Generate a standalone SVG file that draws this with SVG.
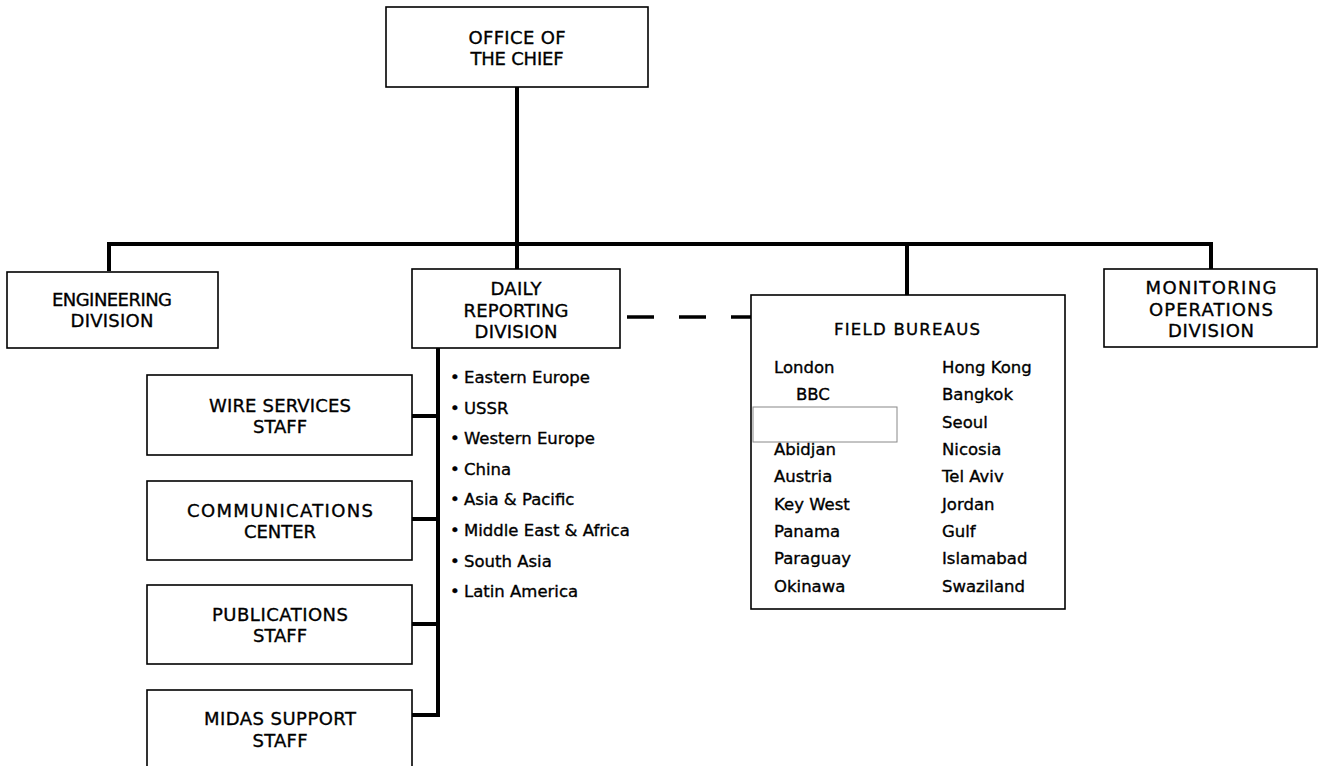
<svg xmlns="http://www.w3.org/2000/svg" width="1319" height="766" viewBox="0 0 1319 766">
<style>
.box{fill:#fff;stroke:#000;stroke-width:1.6}
.lbl{font-family:"DejaVu Sans",sans-serif;font-size:18px;fill:#000;stroke:#000;stroke-width:0.35;text-anchor:middle}
.lst{font-family:"DejaVu Sans",sans-serif;font-size:16.5px;fill:#000;stroke:#000;stroke-width:0.35}
.con{stroke:#000;stroke-width:4;fill:none}
.dash{stroke:#000;stroke-width:3.5;fill:none;stroke-dasharray:27 25}
</style>
<rect width="1319" height="766" fill="#fff"/>
<g id="connectors">
<path class="con" d="M517,87 V244 M109,271 V244 H1211 V269 M517,244 V269 M907,244 V295"/>
<path class="con" d="M438,348 V717 M412,416 H438 M412,519 H438 M412,624 H438 M412,715 H438"/>
<path class="dash" d="M627,317 H751"/>
</g>
<g id="office">
<rect class="box" x="386" y="7" width="262" height="80"/>
<text class="lbl" x="517" y="44" textLength="97">OFFICE OF</text>
<text class="lbl" x="517" y="65" textLength="93">THE CHIEF</text>
</g>
<g id="engineering">
<rect class="box" x="7" y="272" width="211" height="76"/>
<text class="lbl" x="112" y="306" textLength="120">ENGINEERING</text>
<text class="lbl" x="112" y="327" textLength="83">DIVISION</text>
</g>
<g id="daily">
<rect class="box" x="412" y="269" width="208" height="79"/>
<text class="lbl" x="516" y="295" textLength="51">DAILY</text>
<text class="lbl" x="516" y="317" textLength="105">REPORTING</text>
<text class="lbl" x="516" y="338" textLength="83">DIVISION</text>
</g>
<g id="monitoring">
<rect class="box" x="1104" y="269" width="213" height="78"/>
<text class="lbl" x="1211" y="294" textLength="131">MONITORING</text>
<text class="lbl" x="1211" y="316" textLength="124">OPERATIONS</text>
<text class="lbl" x="1211" y="337" textLength="86">DIVISION</text>
</g>
<g id="field">
<rect class="box" x="751" y="295" width="314" height="314"/>
<text class="lbl" x="907" y="335" style="font-size:16.5px" textLength="146">FIELD BUREAUS</text>
<rect x="753" y="407" width="144" height="35" fill="#fff" stroke="#888" stroke-width="1"/>
<g class="lst">
<text x="774" y="373">London</text>
<text x="796" y="400">BBC</text>
<text x="774" y="455">Abidjan</text>
<text x="774" y="482">Austria</text>
<text x="774" y="510">Key West</text>
<text x="774" y="537">Panama</text>
<text x="774" y="564">Paraguay</text>
<text x="774" y="592">Okinawa</text>
<text x="942" y="373">Hong Kong</text>
<text x="942" y="400">Bangkok</text>
<text x="942" y="428">Seoul</text>
<text x="942" y="455">Nicosia</text>
<text x="942" y="482">Tel Aviv</text>
<text x="942" y="510">Jordan</text>
<text x="942" y="537">Gulf</text>
<text x="942" y="564">Islamabad</text>
<text x="942" y="592">Swaziland</text>
</g>
</g>
<g id="regions" class="lst">
<text x="450" y="383">•<tspan x="464">Eastern Europe</tspan></text>
<text x="450" y="414">•<tspan x="464">USSR</tspan></text>
<text x="450" y="444">•<tspan x="464">Western Europe</tspan></text>
<text x="450" y="475">•<tspan x="464">China</tspan></text>
<text x="450" y="505">•<tspan x="464">Asia &amp; Pacific</tspan></text>
<text x="450" y="536">•<tspan x="464">Middle East &amp; Africa</tspan></text>
<text x="450" y="567">•<tspan x="464">South Asia</tspan></text>
<text x="450" y="597">•<tspan x="464">Latin America</tspan></text>
</g>
<g id="wire">
<rect class="box" x="147" y="375" width="265" height="80"/>
<text class="lbl" x="280" y="412" textLength="142">WIRE SERVICES</text>
<text class="lbl" x="280" y="433" textLength="54">STAFF</text>
</g>
<g id="comm">
<rect class="box" x="147" y="481" width="265" height="79"/>
<text class="lbl" x="280" y="517" textLength="186">COMMUNICATIONS</text>
<text class="lbl" x="280" y="538" textLength="72">CENTER</text>
</g>
<g id="pubs">
<rect class="box" x="147" y="585" width="265" height="79"/>
<text class="lbl" x="280" y="621" textLength="136">PUBLICATIONS</text>
<text class="lbl" x="280" y="642" textLength="54">STAFF</text>
</g>
<g id="midas">
<rect class="box" x="147" y="690" width="265" height="90"/>
<text class="lbl" x="280" y="725" textLength="152">MIDAS SUPPORT</text>
<text class="lbl" x="280" y="747" textLength="55">STAFF</text>
</g>
</svg>
